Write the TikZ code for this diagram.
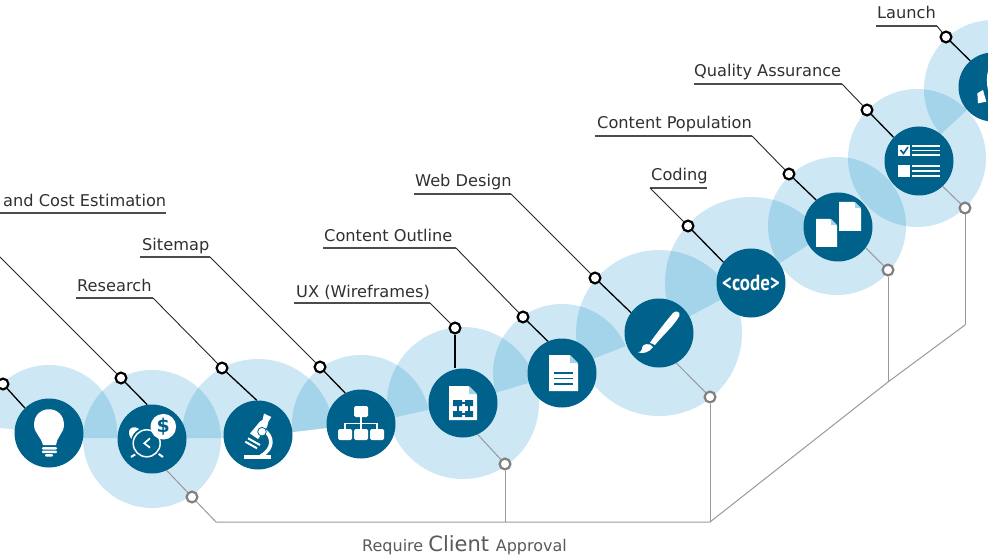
\documentclass[tikz,border=0pt]{standalone}
\usepackage{fontspec}
\setmainfont{DejaVu Sans}
\newfontfamily\codefont{PT Sans}
\definecolor{lobec}{HTML}{CDE7F4}
\definecolor{lapc}{HTML}{A3D4EA}
\definecolor{deep}{HTML}{00628B}
\definecolor{inkc}{HTML}{303030}
\def\bandclip{(-30,-30) -- (-30,426) -- (0,428) -- (49,433) -- (85,438) -- (221,438) -- (258,435) -- (292,432) -- (326,428) -- (361,424) -- (396,417) -- (428,410) -- (463,403) -- (495,393) -- (528,383) -- (562,373) -- (595,358) -- (626,346) -- (659,333) -- (692,315) -- (720,300) -- (751,283) -- (780,263) -- (808,245) -- (838,227) -- (919,158) -- (942,133) -- (967,110) -- (993,87) -- (1030,52) -- (1030,-30) -- cycle}
\newcommand{\fulllobe}[3]{\fill[lobec] (#1,#2) circle [radius=#3];}
\newcommand{\cutlobe}[3]{\begin{scope}\clip \bandclip;\fill[lobec] (#1,#2) circle [radius=#3];\end{scope}}
\newcommand{\lap}[6]{\begin{scope}\clip \bandclip;\clip (#1,#2) circle [radius=#3];\fill[lapc] (#4,#5) circle [radius=#6];\end{scope}}
\newcommand{\sheet}[5]{% x1 y1 x2 y2 fold
  \fill[white] (#1,#2) -- ({#3-#5},#2) -- (#3,{#2+#5}) -- (#3,#4) -- (#1,#4) -- cycle;
  \fill[lapc] ({#3-#5+1},#2) -- (#3,{#2+#5-1}) -- ({#3-#5+1},{#2+#5-1}) -- cycle;}
\tikzset{
  disc/.style={circle,fill=deep,minimum size=69,inner sep=0pt},
  ringb/.style={circle,draw=black,fill=white,line width=2.2pt,minimum size=10.8,inner sep=0pt},
  ringg/.style={circle,draw=black!50,fill=white,line width=2.2pt,minimum size=10.8,inner sep=0pt},
  leader/.style={draw=black,line width=1.3pt},
  thinl/.style={draw=black!85,line width=0.9pt},
  under/.style={draw=black!70,line width=1.1pt},
  appr/.style={draw=black!40,line width=1pt},
  lbl/.style={anchor=base west,inner sep=0pt,text=inkc,font=\fontsize{16.2}{18}\selectfont},
  iconl/.style={draw=white,line width=1.5pt},
}
\begin{document}
\begin{tikzpicture}[x=1pt,y=-1pt]
\clip (0,0) rectangle (988,556);
\useasboundingbox (0,0) rectangle (988,556);
% lobes
\cutlobe{49}{433}{68}
\fulllobe{152}{439}{69}
\cutlobe{258}{435}{76}
\cutlobe{361}{424}{69}
\fulllobe{463}{403}{76}
\cutlobe{562}{373}{69}
\fulllobe{659}{333}{83}
\cutlobe{751}{283}{86}
\fulllobe{837}{226}{69}
\fulllobe{917}{158}{69}
\cutlobe{993}{89}{69}
% overlaps
\lap{49}{433}{68}{152}{439}{69}
\lap{152}{439}{69}{258}{435}{76}
\lap{258}{435}{76}{361}{424}{69}
\lap{361}{424}{69}{463}{403}{76}
\lap{463}{403}{76}{562}{373}{69}
\lap{562}{373}{69}{659}{333}{83}
\lap{659}{333}{83}{751}{283}{86}
\lap{751}{283}{86}{837}{226}{69}
\begin{scope}\clip (837,226) circle [radius=69];\fill[lapc] (917,158) circle [radius=69];\end{scope}
\lap{917}{158}{69}{993}{89}{69}
% discs
\node[disc] (bulb) at (49,433) {};
\node[disc] (clock) at (152,439) {};
\node[disc] (micro) at (258,435) {};
\node[disc] (site) at (361,424) {};
\node[disc] (ux) at (463,403) {};
\node[disc] (cont) at (562,373) {};
\node[disc] (web) at (659,333) {};
\node[disc] (code) at (751,283) {\codefont\bfseries\fontsize{22}{22}\selectfont\scalebox{0.86}[1]{\textcolor{white}{<code>}}};
\node[disc] (pop) at (838,227) {};
\node[disc] (qa) at (919,161) {};
\node[disc] (launch) at (993,87) {};
% rings
\node[ringb] (rbulb) at (3,384) {};
\node[ringb] (rclock) at (121,378) {};
\node[ringb] (rmicro) at (222,368) {};
\node[ringb] (rsite) at (320,367) {};
\node[ringb] (rux) at (455,328) {};
\node[ringb] (rcont) at (523,317) {};
\node[ringb] (rweb) at (595,278) {};
\node[ringb] (rcode) at (688,226) {};
\node[ringb] (rpop) at (789,174) {};
\node[ringb] (rqa) at (867,110) {};
\node[ringb] (rlaunch) at (946,37) {};
\node[ringg] (gclock) at (192,497) {};
\node[ringg] (gux) at (505,464) {};
\node[ringg] (gweb) at (710,397) {};
\node[ringg] (gpop) at (888,270) {};
\node[ringg] (gqa) at (965,208) {};
% ring to disc
\foreach \r/\d/\a in {rbulb/bulb/134,rclock/clock/98,rmicro/micro/92,rsite/site/117,rcont/cont/114,rweb/web/144,rcode/code/143,rpop/pop/129,rqa/qa/137,rlaunch/launch/131}
  \draw[leader] (\r) -- (\d.\a);
\draw[leader] (rux) -- (rux |- ux.north);
\foreach \r/\d/\a in {gclock/clock/-65,gux/ux/-65,gweb/web/-60,gpop/pop/-37,gqa/qa/-47}
  \draw[appr] (\r) -- (\d.\a);
% labels
\node[lbl] (lclock) at (3,207) {and Cost Estimation};
\node[lbl] (lmicro) at (77,291) {Research};
\node[lbl] (lsite) at (142,251) {Sitemap};
\node[lbl] (lux) at (296,297) {UX (Wireframes)};
\node[lbl] (lcont) at (324,241) {Content Outline};
\node[lbl] (lweb) at (415,187) {Web Design};
\node[lbl] (lcode) at (651,181) {Coding};
\node[lbl] (lpop) at (597,129) {Content Population};
\node[lbl] (lqa) at (694,77) {Quality Assurance};
\node[lbl] (llaunch) at (877,19) {Launch};
\node[anchor=base west,inner sep=0pt,text=black!65] (lappr) at (362,551) {\fontsize{16}{18}\selectfont Require \fontsize{21}{22}\selectfont Client \fontsize{16}{18}\selectfont Approval};
% underlines and diagonals
\coordinate (ca) at (0,213); \coordinate (cb) at (166,213); \coordinate (cd) at (0,257);
\draw[under] (ca) -- (cb);
\draw[thinl] (rclock) -- (cd);
\coordinate (ma) at (76,298); \coordinate (mb) at (153,298);
\draw[under] (ma) -- (mb); \draw[thinl] (mb) -- (rmicro);
\coordinate (sa) at (140,257); \coordinate (sb) at (210,257);
\draw[under] (sa) -- (sb); \draw[thinl] (sb) -- (rsite);
\coordinate (ua) at (294,303); \coordinate (ub) at (430,303);
\draw[under] (ua) -- (ub); \draw[thinl] (ub) -- (rux);
\coordinate (oa) at (323,248); \coordinate (ob) at (456,248);
\draw[under] (oa) -- (ob); \draw[thinl] (ob) -- (rcont);
\coordinate (wa) at (414,194); \coordinate (wb) at (511,194);
\draw[under] (wa) -- (wb); \draw[thinl] (wb) -- (rweb);
\coordinate (ka) at (707,188); \coordinate (kb) at (650,188);
\draw[under] (ka) -- (kb); \draw[thinl] (kb) -- (rcode);
\coordinate (pa) at (595,136); \coordinate (pb) at (752,136);
\draw[under] (pa) -- (pb); \draw[thinl] (pb) -- (rpop);
\coordinate (qa0) at (694,84); \coordinate (qb) at (842,84);
\draw[under] (qa0) -- (qb); \draw[thinl] (qb) -- (rqa);
\coordinate (la) at (876,26); \coordinate (lb) at (937,26);
\draw[under] (la) -- (lb); \draw[thinl] (lb) -- (rlaunch);
% approval lines
\coordinate (j1) at (216,522); \coordinate (j2) at (505,522); \coordinate (j3) at (710,522);
\coordinate (j4) at (888,382); \coordinate (j5) at (965,325);
\draw[appr] (gclock) -- (j1) -- (j3) -- (j4) -- (j5);
\draw[appr] (gux) -- (j2);
\draw[appr] (gweb) -- (j3);
\draw[appr] (gpop) -- (j4);
\draw[appr] (gqa) -- (j5);
% --- icons ---
% bulb
\fill[white] (43,445) .. controls (42,438) and (34,433) .. (34,425) .. controls (34,404) and (64,404) .. (64,425) .. controls (64,433) and (56,438) .. (56,445) -- cycle;
\fill[white,rounded corners=1pt] (42,447) rectangle (57,449.5) (42,450.7) rectangle (57,453) (45,454.2) rectangle (53,456.5);
% clock
\fill[white] (130,429) .. controls (133,426) and (138,427) .. (141,431) -- (132,440) .. controls (129,436) and (128,432) .. (130,429) -- cycle;
\draw[iconl,line width=2pt] (131,457) -- (139,452);
\draw[iconl,line width=2pt] (163,457) -- (156,452);
\fill[deep] (146.7,443.3) circle [radius=16];
\draw[iconl] (146.7,443.3) circle [radius=13.5];
\draw[iconl,line width=1.7pt] (150,438.3) -- (144.3,443.3) -- (150,447.7);
\fill[white] (163.3,426.7) circle [radius=12.8];
\node[text=deep,inner sep=0pt,font=\bfseries\fontsize{19}{19}\selectfont] (dollar) at (163.3,426.7) {\$};
% microscope
\fill[white] (244,455) -- (271,455) -- (271,458.5) -- (244,458.5) -- cycle;
\draw[white,line width=3.6pt] (265,431) .. controls (272,436) and (275,448) .. (261,456);
\fill[white] (264,413.5) -- (271.3,417) -- (268.5,421.5) -- (267,427) -- (258,439) -- (250,433.5) -- (260,421.5) -- (262.5,420) -- cycle;
\draw[white,line width=2pt] (248,438.3) -- (260,445);
\draw[white,line width=2pt] (245.3,441.7) -- (257,448.3);
\fill[white,draw=deep,line width=0.8pt] (262,431.7) circle [radius=4.3];
% sitemap
\draw[iconl] (361,417) -- (361,429) (345,429) -- (345,423.5) -- (377,423.5) -- (377,429);
\fill[white,rounded corners=1.5pt] (354,406) rectangle (368,417);
\fill[white,rounded corners=1.5pt] (338,429) rectangle (352,440);
\fill[white,rounded corners=1.5pt] (354,429) rectangle (368,440);
\fill[white,rounded corners=1.5pt] (370,429) rectangle (384,440);
% ux page
\sheet{449}{386}{477}{420}{9}
\fill[deep] (453,400) rectangle (462,406) (465,400) rectangle (473,406) (453,411) rectangle (462,417) (465,411) rectangle (473,417);
\draw[deep,line width=1.4pt] (462,403) -- (465,403) (462,414) -- (465,414) (458,406) -- (458,411) (469,406) -- (469,411);
% content page
\sheet{549}{355}{578}{391}{9}
\draw[deep,line width=1.6pt] (554,373) -- (573,373) (554,378.5) -- (573,378.5) (554,384) -- (573,384);
% brush
\fill[white] (673.3,312.7) .. controls (676,310) and (681,312) .. (679.3,316) .. controls (674,326) and (662,336) .. (655,345) -- (650,342.7) .. controls (656,334) and (667,320) .. (673.3,312.7) -- cycle;
\fill[white] (650,344.5) .. controls (644,343) and (642,346) .. (642,349) .. controls (642,351) and (640,352) .. (638,352.3) .. controls (642,354) and (649,353) .. (653,347) -- cycle;
% pages
\sheet{816}{219}{837}{247}{7}
\sheet{839}{202}{861}{231}{7}
% qa
\fill[white] (898,145) rectangle (910,156);
\draw[deep,line width=1.6pt] (900.5,150) -- (903.5,153.5) -- (908,147);
\draw[white,line width=1.5pt] (912,146) -- (940,146) (912,150.5) -- (940,150.5) (912,155) -- (940,155);
\fill[white] (898,165.5) rectangle (910,177);
\draw[white,line width=1.5pt] (912,166) -- (940,166) (912,171) -- (940,171) (912,176) -- (940,176);
% launch
\fill[white] (977.3,93.3) -- (983,90) -- (986.3,101.7) -- (978,103.3) -- cycle;
\fill[white] (988,71) .. controls (986.5,76) and (986.5,84) .. (988,90) -- (992,90) -- (992,71) -- cycle;
\end{tikzpicture}
\end{document}
